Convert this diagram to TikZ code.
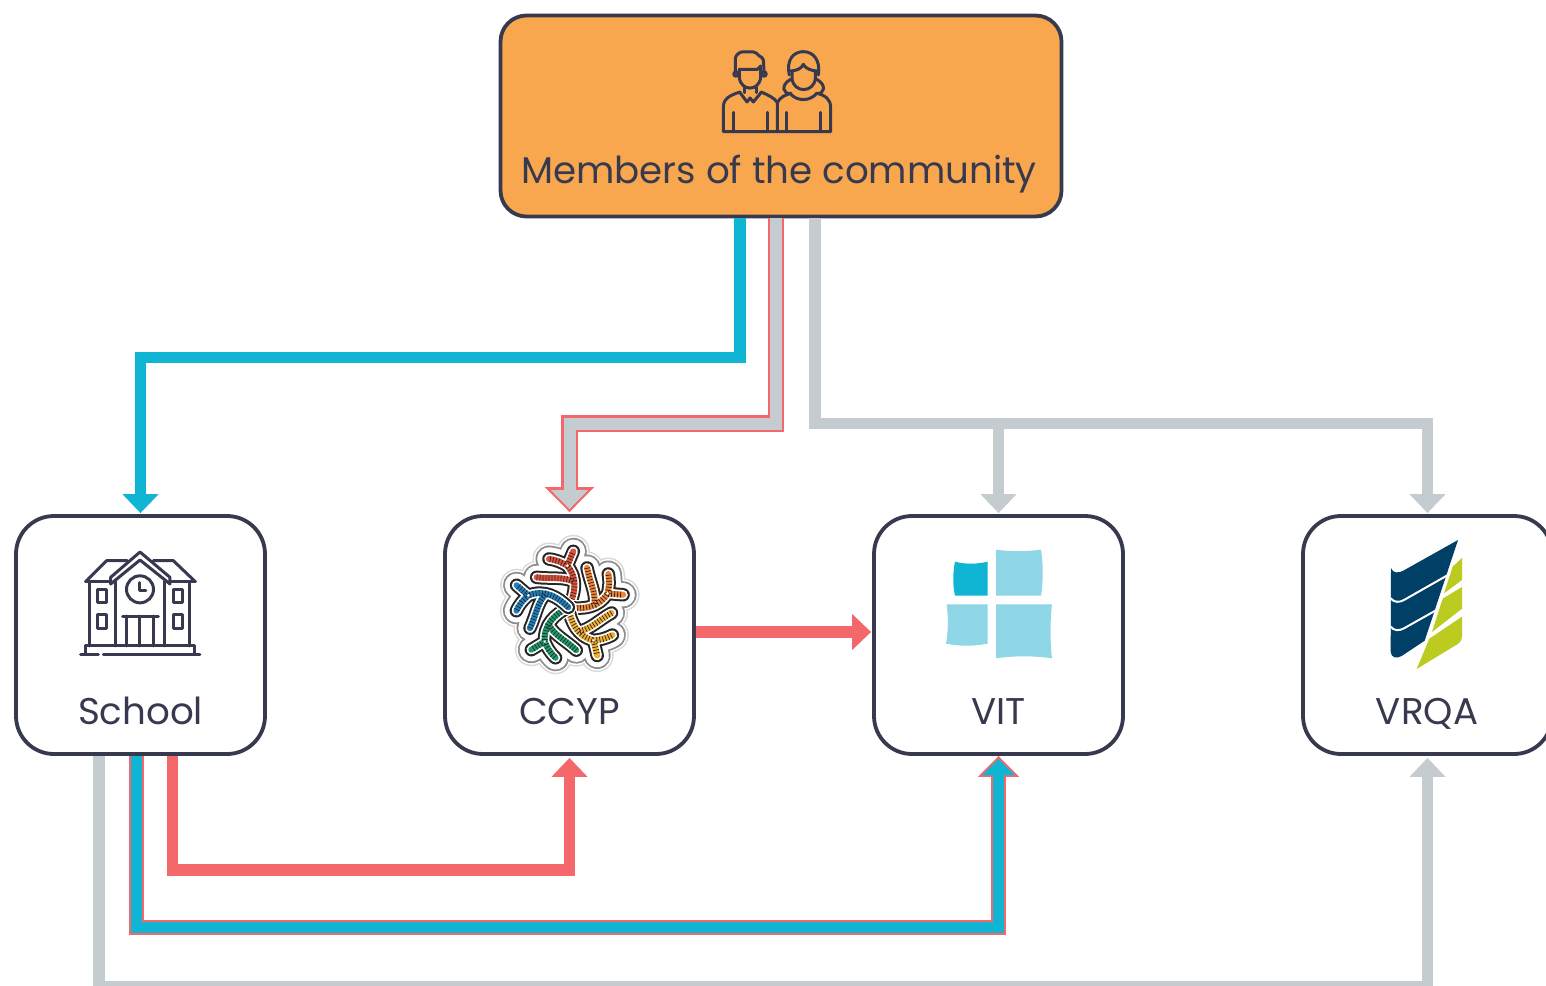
\documentclass[tikz,border=0pt]{standalone}
\usepackage{fontspec}
\setmainfont{Poppins}
\usetikzlibrary{arrows.meta,calc}
\definecolor{inkc}{HTML}{373A4E}
\definecolor{orangec}{HTML}{F8A74F}
\definecolor{tealc}{HTML}{0FB5D3}
\definecolor{greyc}{HTML}{C4CCCF}
\definecolor{redc}{HTML}{F4686B}
\definecolor{paleteal}{HTML}{8FD6E6}
\definecolor{navyc}{HTML}{003F66}
\definecolor{limec}{HTML}{BCCB20}
\definecolor{fa}{HTML}{E0523A}
\definecolor{fb}{HTML}{EE8434}
\definecolor{fc}{HTML}{F2AE2E}
\definecolor{fd}{HTML}{1C9C6B}
\definecolor{fe}{HTML}{1F80BF}
\newcommand\figdraw[1]{%
  \draw[#1] (0,0) .. controls (20,-40) and (30,-85) .. (-3,-125) -- (15,-168)
    (-3,-125) .. controls (-20,-135) and (-35,-142) .. (-58,-145)
    (14,-78) .. controls (-15,-92) and (-55,-85) .. (-95,-90);}
\tikzset{
  x=1pt,y=-1pt,
  box/.style={draw=inkc,line width=3.8pt,rounded corners=38pt,minimum width=249pt,minimum height=238pt,fill=white,inner sep=0pt},
  topbox/.style={draw=inkc,line width=3.8pt,rounded corners=26pt,minimum width=561pt,minimum height=201pt,fill=orangec,inner sep=0pt},
  lbl/.style={text=inkc,font=\fontsize{37.2}{42}\selectfont,inner sep=0pt,anchor=base},
  tealline/.style={draw=tealc,line width=11.5pt,-{Triangle[length=19pt,width=35pt,fill=tealc]}},
  greyline/.style={draw=greyc,line width=11.5pt,-{Triangle[length=19pt,width=35pt,fill=greyc]}},
  redline/.style={draw=redc,line width=11.5pt,-{Triangle[length=19pt,width=35pt,fill=redc]}},
  redhalo/.style={draw=redc,line width=16.5pt,-{Triangle[length=25pt,width=48pt,fill=redc]}},
  icon/.style={draw=inkc,line width=3pt,line cap=round,line join=round},
  zoomA/.style={x=0.3333pt,y=-0.3333pt},
}
\begin{document}
\begin{tikzpicture}
\useasboundingbox (0,0) rectangle (1546,985);
\clip (0,0) rectangle (1546,985);
% boxes
\node[topbox] (top) at (781,116) {};
\node[box] (school) at (140.5,635) {};
\node[box] (ccyp) at (569.5,635) {};
\node[box] (vit) at (998.5,635) {};
\node[box] (vrqa) at (1427.5,635) {};
% labels
\node[lbl] (toplbl) at (779,183) {Members of the community};
\node[lbl] (schoollbl) at (140.5,724) {School};
\node[lbl] (ccyplbl) at (569.5,724) {CCYP};
\node[lbl] (vitlbl) at (998.5,724) {VIT};
\node[lbl] (vrqalbl) at (1427,724) {VRQA};
% helper points
\coordinate (hub) at (998.5,423.5);
% connectors: top
\draw[tealline] ([xshift=-41pt]top.south) |- (140.5,357.5) -- ([yshift=1pt]school.north);
\draw[redhalo] ([xshift=-5pt]top.south) |- (569.5,423.5) -- ([yshift=2pt]ccyp.north);
\draw[greyline,line width=12pt,-{Triangle[length=19pt,width=36pt,fill=greyc]}] ([xshift=-5pt]top.south) |- (569.5,423.5) -- ([yshift=5pt]ccyp.north);
\draw[greyline] ([xshift=34pt]top.south) |- (hub) -- ([yshift=1pt]vit.north);
\draw[greyline] (hub) -| ([yshift=1pt]vrqa.north);
% ccyp to vit
\draw[redline] ([yshift=3pt]ccyp.east) -- ([xshift=-1pt,yshift=3pt]vit.west);
% school bottom
\draw[greyline] ([xshift=-41.5pt]school.south) |- (1427.5,987) -- ([yshift=-2pt]vrqa.south);
\draw[redhalo,-{Triangle[length=21pt,width=40pt,fill=redc]},line width=14.5pt] ([xshift=-4pt]school.south) |- (998.5,927.5) -- ([yshift=0pt]vit.south);
\draw[tealline,line width=11pt,-{Triangle[length=16.5pt,width=32pt,fill=tealc]}] ([xshift=-4pt]school.south) |- (998.5,927.5) -- ([yshift=-3pt]vit.south);
\draw[redline] ([xshift=32pt]school.south) |- (569.5,870) -- ([yshift=-2pt]ccyp.south);
% people icon
\begin{scope}[shift={(700,30)},zoomA]
\begin{scope}[rounded corners=1.5pt]
\draw[icon] (106,122) -- (106,80) -- (120,66) -- (165,66) -- (178,78) -- (190,86) -- (192,122);
\end{scope}
\draw[icon] (118,118) -- (172,118) -- (182,108);
\draw[icon] (118,118) -- (118,142) .. controls (122,185) and (178,185) .. (182,142) -- (182,108);
\draw[icon] (108,132) circle (2.2pt);
\draw[icon] (192,132) circle (2.2pt);
\draw[icon] (132,172) -- (132,188) (168,172) -- (168,188);
\draw[icon] (120,188) -- (141,216) -- (150,204) -- (160,216) -- (183,188);
\draw[icon] (120,186) .. controls (90,196) and (70,205) .. (70,232) -- (70,305) -- (392,305) -- (392,232) .. controls (392,208) and (375,195) .. (350,190);
\draw[icon] (183,186) .. controls (205,195) and (225,205) .. (232,218) -- (232,305);
\draw[icon] (232,218) .. controls (240,200) and (258,195) .. (272,190);
\draw[icon] (100,247) -- (100,305) (202,247) -- (202,305) (258,247) -- (258,305) (362,247) -- (362,305);
\draw[icon] (270,190) .. controls (290,215) and (330,215) .. (350,190);
\draw[icon] (268,135) .. controls (258,90) and (280,65) .. (310,65) .. controls (340,65) and (362,90) .. (355,135);
\draw[icon] (270,123) .. controls (290,123) and (305,115) .. (310,103) .. controls (315,115) and (335,123) .. (352,123);
\draw[icon] (276,125) -- (276,145) .. controls (280,190) and (342,190) .. (346,145) -- (346,125);
\draw[icon] (272,148) .. controls (240,165) and (250,195) .. (272,190);
\draw[icon] (350,148) .. controls (382,165) and (372,195) .. (350,190);
\end{scope}
% school icon
\begin{scope}[shift={(70,540)},zoomA]
\draw[icon] (32,343) -- (85,343) (100,343) -- (390,343);
\draw[icon] (47,343) -- (47,318) -- (375,318) -- (375,343);
\draw[icon] (60,125) -- (60,318) (360,125) -- (360,318) (137,125) -- (137,318) (285,125) -- (285,318);
\draw[icon] (47,125) -- (110,62) -- (172,62) (250,62) -- (310,62) -- (376,125);
\draw[icon] (47,125) -- (122,125) (298,125) -- (376,125);
\draw[icon] (122,132) -- (122,112) -- (210,36) -- (300,112) -- (300,132);
\draw[icon] (122,132) -- (210,60) -- (300,132);
\draw[icon] (210,148) circle (13.5pt);
\draw[icon] (210,128) -- (210,152) -- (228,152);
\draw[icon] (158,228) -- (265,228);
\draw[icon] (170,228) -- (170,318) (210,228) -- (210,318) (252,228) -- (252,318);
\draw[icon] (82,148) rectangle (110,188) (82,222) rectangle (110,264) (310,148) rectangle (338,188) (310,222) rectangle (338,264);
\end{scope}
% ccyp logo
\foreach \w/\c in {33/black!15,30/white,27/black!45,23.5/white}{
  \foreach \i in {0,...,4}{
    \begin{scope}[shift={(568.3,607.3)},zoomA,rotate=-72*\i]
    \figdraw{draw=\c,line width=\w pt,line cap=round,line join=round}
    \end{scope}
  }
}
\foreach \i/\c in {0/fa,1/fb,2/fc,3/fd,4/fe}{
  \begin{scope}[shift={(568.3,607.3)},zoomA,rotate=-72*\i]
  \figdraw{draw=white,line width=16pt,line cap=round,line join=round}
  \figdraw{draw=black!85,line width=13.5pt,line cap=round,line join=round}
  \figdraw{draw=white,line width=9.5pt,line cap=round,line join=round}
  \figdraw{draw=\c,line width=6pt,line cap=round,line join=round}
  \figdraw{draw=black!85,line width=6pt,dash pattern=on .7pt off 2.3pt}
  \fill[white] (-3,-125) circle (1.5pt);
  \end{scope}
}
% vit logo
\begin{scope}[shift={(930,535)},zoomA]
\fill[tealc] (75,80) .. controls (105,88) and (140,88) .. (173,80) -- (173,182) -- (75,182) .. controls (68,150) and (68,115) .. (75,80) -- cycle;
\fill[paleteal] (198,44) .. controls (240,50) and (290,50) .. (333,44) .. controls (340,90) and (340,135) .. (333,182) -- (198,182) -- cycle;
\fill[paleteal] (50,208) -- (173,208) -- (173,326) .. controls (130,334) and (90,334) .. (48,326) .. controls (55,290) and (55,245) .. (50,208) -- cycle;
\fill[paleteal] (198,208) -- (366,208) .. controls (360,260) and (360,320) .. (366,370) .. controls (310,362) and (250,362) .. (198,370) -- cycle;
\end{scope}
% vrqa logo
\begin{scope}[shift={(1370,530)},zoomA]
\fill[navyc] (63,114) .. controls (68,130) and (85,130) .. (100,122) -- (264,30) -- (164,332) -- (95,378) .. controls (78,388) and (63,382) .. (62,365) -- cycle;
\draw[white,line width=2pt] (62,205) .. controls (72,218) and (88,218) .. (102,210) -- (232,136);
\draw[white,line width=2pt] (62,290) .. controls (72,303) and (88,303) .. (102,295) -- (196,242);
\fill[limec] (248,110) -- (276,84) -- (276,150) -- (222,190) -- cycle;
\fill[limec] (218,206) -- (276,171) -- (276,236) -- (186,306) -- cycle;
\fill[limec] (178,326) -- (276,260) -- (276,318) .. controls (276,335) and (265,342) .. (250,350) -- (140,417) -- cycle;
\end{scope}
\end{tikzpicture}
\end{document}
